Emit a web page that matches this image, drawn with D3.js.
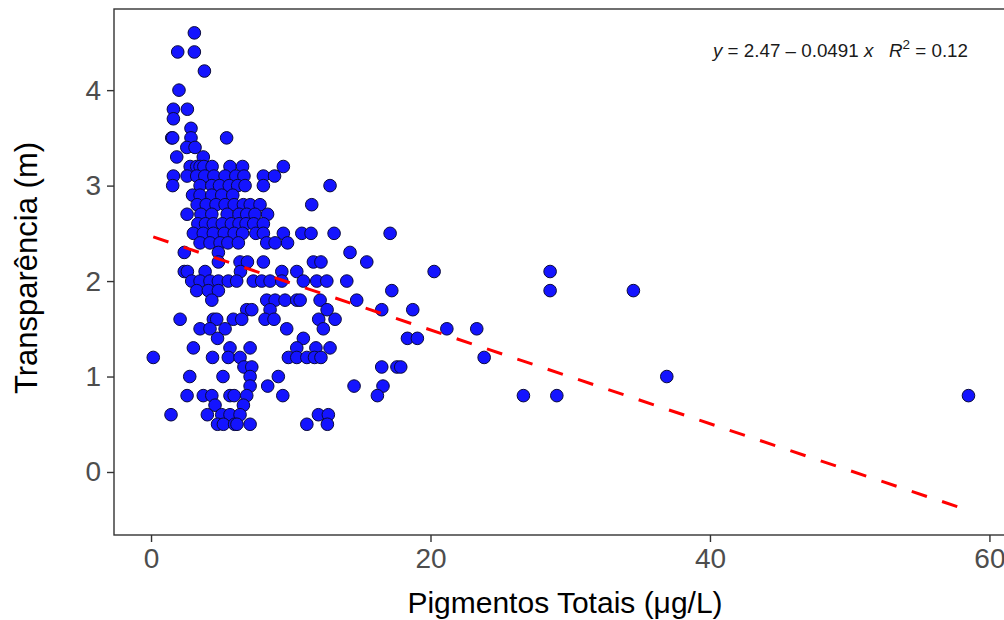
<!DOCTYPE html>
<html>
<head>
<meta charset="utf-8">
<script src="https://cdn.jsdelivr.net/npm/d3@7"></script>
<style>
  html, body { margin: 0; padding: 0; background: #fff; }
  svg { display: block; font-family: "Liberation Sans", Arial, sans-serif; }
</style>
</head>
<body>
<svg id="chart" width="1004" height="620"></svg>
<script>
// Transparência (m) levels, each with the Pigmentos Totais (µg/L) readings at that level
const transparencia = [4.6, 4.4, 4.2, 4.0, 3.8, 3.7, 3.6, 3.5, 3.4, 3.3, 3.2, 3.1, 3.0, 2.9, 2.8, 2.7, 2.6, 2.5, 2.4, 2.3, 2.2, 2.1, 2.0, 1.9, 1.8, 1.7, 1.6, 1.5, 1.4, 1.3, 1.2, 1.1, 1.0, 0.9, 0.8, 0.7, 0.6, 0.5];
const pigmentos = [
  [3.10],
  [1.91, 3.10],
  [3.82],
  [2.00],
  [1.60, 2.60],
  [1.60],
  [2.86],
  [1.48, 1.55, 2.86, 5.41],
  [2.56, 3.15],
  [1.84, 3.74],
  [2.80, 3.27, 3.51, 3.78, 4.37, 5.65, 6.55, 9.47],
  [1.60, 2.58, 3.27, 3.85, 4.50, 5.30, 6.07, 6.65, 8.04, 8.84],
  [1.55, 3.51, 4.35, 4.90, 5.60, 6.20, 6.73, 8.04, 12.81],
  [2.97, 3.51, 4.35, 5.06, 5.85],
  [3.30, 3.95, 4.65, 5.30, 5.95, 6.61, 7.10, 7.80, 11.50],
  [2.58, 3.57, 4.35, 5.45, 6.30, 6.85, 7.44, 8.34],
  [3.35, 3.90, 4.46, 5.10, 5.75, 6.30, 6.80, 7.35, 8.04],
  [3.03, 3.74, 4.46, 5.24, 5.95, 6.55, 7.50, 8.04, 9.47, 10.79, 11.45, 13.10, 17.11],
  [3.51, 4.22, 4.94, 5.50, 6.25, 8.28, 8.88, 9.77],
  [2.38, 4.82, 14.24],
  [4.82, 6.37, 6.90, 8.04, 11.62, 12.16, 15.44],
  [2.38, 2.60, 3.87, 6.40, 9.36, 10.43, 20.26, 28.56],
  [2.91, 3.51, 4.22, 4.82, 5.53, 6.13, 7.32, 7.92, 8.52, 9.36, 10.90, 11.86, 12.58, 14.01],
  [3.27, 4.10, 4.82, 17.23, 28.56, 34.52],
  [4.35, 8.28, 8.88, 9.59, 10.43, 10.67, 12.10, 14.72],
  [6.85, 7.21, 8.52, 12.60, 16.51, 18.73],
  [2.08, 4.46, 4.70, 5.89, 6.49, 8.16, 8.80, 12.00, 13.17],
  [3.51, 4.22, 5.30, 9.71, 12.33, 21.17, 23.31],
  [4.76, 10.90, 18.35, 19.06],
  [3.03, 5.65, 7.09, 10.43, 11.80, 12.81],
  [0.16, 4.40, 5.53, 6.37, 9.83, 10.43, 11.15, 11.70, 12.16, 23.84],
  [6.65, 7.21, 16.51, 17.60, 17.87],
  [2.77, 5.15, 7.09, 9.11, 36.91],
  [7.09, 8.35, 14.53, 16.60],
  [2.58, 3.74, 4.35, 5.65, 5.95, 6.85, 9.43, 16.20, 26.65, 29.04, 58.50],
  [4.58, 6.61],
  [1.43, 4.03, 5.06, 5.65, 6.37, 11.98, 12.69],
  [4.76, 5.18, 5.98, 6.15, 7.09, 11.15, 12.62]
];

// Linear fit reported on the chart: y = intercept + slope * x
const intercept = 2.47;
const slope = -0.0491;
const r2 = 0.12;

const xTicks = [0, 20, 40, 60];
const yTicks = [0, 1, 2, 3, 4];
const xTitle = "Pigmentos Totais (\u03bcg/L)";
const yTitle = "Transparência (m)";

// Flatten to point records
const points = [];
transparencia.forEach((t, i) => pigmentos[i].forEach(p => points.push({ x: p, y: t })));

const svg = d3.select("#chart");
const panel = { left: 114, top: 9, right: 1009, bottom: 535 };

const x = d3.scaleLinear().domain([-2.65, 61.4]).range([panel.left, panel.right]);
const y = d3.scaleLinear().domain([-0.66, 4.85]).range([panel.bottom, panel.top]);

// Points
svg.append("g")
  .selectAll("circle")
  .data(points)
  .join("circle")
  .attr("cx", d => x(d.x))
  .attr("cy", d => y(d.y))
  .attr("r", 6.3)
  .attr("fill", "#1414ff")
  .attr("stroke", "#0a0a3c")
  .attr("stroke-width", 1);

// Fitted line over the observed range
const xr = d3.extent(points, d => d.x);
svg.append("line")
  .attr("x1", x(xr[0])).attr("y1", y(intercept + slope * xr[0]))
  .attr("x2", x(xr[1])).attr("y2", y(intercept + slope * xr[1]))
  .attr("stroke", "#ff0000")
  .attr("stroke-width", 3)
  .attr("stroke-dasharray", "16,16");

// Panel border
svg.append("rect")
  .attr("x", panel.left).attr("y", panel.top)
  .attr("width", panel.right - panel.left)
  .attr("height", panel.bottom - panel.top)
  .attr("fill", "none")
  .attr("stroke", "#333333")
  .attr("stroke-width", 1.4);

// Axes
const xAxis = svg.append("g")
  .attr("transform", `translate(0,${panel.bottom})`)
  .call(d3.axisBottom(x).tickValues(xTicks).tickSize(7).tickPadding(6).tickFormat(d3.format("d")));
const yAxis = svg.append("g")
  .attr("transform", `translate(${panel.left},0)`)
  .call(d3.axisLeft(y).tickValues(yTicks).tickSize(7).tickPadding(6).tickFormat(d3.format("d")));

[xAxis, yAxis].forEach(g => {
  g.select(".domain").remove();
  g.selectAll(".tick line").attr("stroke", "#333333").attr("stroke-width", 1.4);
  g.selectAll(".tick text")
    .attr("fill", "#4d4d4d")
    .style("font-size", "28px")
    .style("font-family", "'Liberation Sans', Arial, sans-serif");
});

// Axis titles
svg.append("text")
  .attr("x", 565)
  .attr("y", 613)
  .attr("text-anchor", "middle")
  .attr("fill", "#000")
  .style("font-size", "30px")
  .text(xTitle);

svg.append("text")
  .attr("transform", `translate(37,${(panel.top + panel.bottom) / 2 - 4}) rotate(-90)`)
  .attr("text-anchor", "middle")
  .attr("fill", "#000")
  .style("font-size", "31px")
  .text(yTitle);

// Equation label
const eq = svg.append("text")
  .attr("x", 968)
  .attr("y", 57)
  .attr("text-anchor", "end")
  .attr("fill", "#1a1a1a")
  .style("font-size", "18.8px");
eq.append("tspan").style("font-style", "italic").text("y");
eq.append("tspan").text(` = ${intercept} \u2013 ${Math.abs(slope)} `);
eq.append("tspan").style("font-style", "italic").text("x");
eq.append("tspan").text("\u00a0\u00a0\u00a0");
eq.append("tspan").style("font-style", "italic").text("R");
eq.append("tspan").attr("dy", -8).style("font-size", "13.5px").text("2");
eq.append("tspan").attr("dy", 8).text(` = ${r2}`);
</script>
</body>
</html>
